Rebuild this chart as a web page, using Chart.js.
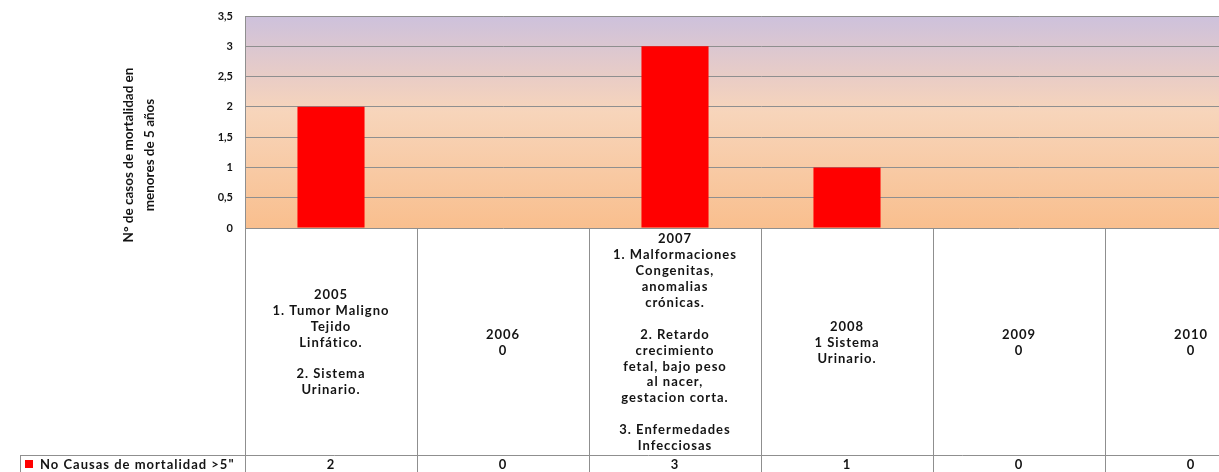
<!DOCTYPE html>
<html>
<head>
<meta charset="utf-8">
<script src="https://cdn.jsdelivr.net/npm/chart.js@4"></script>
<style>
  html, body { margin: 0; padding: 0; background: #fff; overflow: hidden; }
  #wrap { position: relative; width: 1290px; height: 472px; }
</style>
</head>
<body>
<div id="wrap"><canvas id="chartCausas"></canvas></div>
<script>
const years = ["2005", "2006", "2007", "2008", "2009", "2010"];
const causes = [
  ["1. Tumor Maligno", "Tejido", "Linfático.", "", "2. Sistema", "Urinario."],
  ["0"],
  ["1. Malformaciones", "Congenitas,", "anomalias", "crónicas.", "", "2. Retardo", "crecimiento", "fetal, bajo peso", "al nacer,", "gestacion corta.", "", "3. Enfermedades", "Infecciosas"],
  ["1 Sistema", "Urinario."],
  ["0"],
  ["0"],
];
const casos = [2, 0, 3, 1, 0, 0];
const seriesName = 'No Causas de mortalidad >5"';
const yTitle = ["N° de casos de mortalidad en", "menores de 5 años"];

const FONT = "Lato";
const TEXT = "#141414";
const LINE = "#8f8f8f";

// plot background gradient + data table under the chart
const tablePlugin = {
  id: "dataTable",
  beforeDraw(chart) {
    const { ctx, chartArea: a } = chart;
    const g = ctx.createLinearGradient(0, a.top, 0, a.bottom);
    g.addColorStop(0, "#cdc1dc");
    g.addColorStop(0.3, "#eacdc5");
    g.addColorStop(0.45, "#f7d5bb");
    g.addColorStop(1, "#f9bf8e");
    ctx.save();
    ctx.fillStyle = g;
    ctx.fillRect(a.left, a.top, a.right - a.left, a.bottom - a.top);
    ctx.restore();
  },
  afterDraw(chart) {
    const { ctx, chartArea: a } = chart;
    const x = chart.scales.x;
    const half = (x.getPixelForValue(1) - x.getPixelForValue(0)) / 2;
    const rowMid = 455;
    const bottom = chart.height;
    ctx.save();
    ctx.strokeStyle = LINE;
    ctx.lineWidth = 1;
    ctx.beginPath();
    for (let i = 0; i <= years.length; i++) {
      const px = Math.round(x.getPixelForValue(i) - half) + 0.5;
      ctx.moveTo(px, a.bottom);
      ctx.lineTo(px, bottom);
    }
    ctx.moveTo(20, rowMid + 0.5);
    ctx.lineTo(a.right, rowMid + 0.5);
    ctx.moveTo(20.5, rowMid);
    ctx.lineTo(20.5, bottom);
    ctx.stroke();

    ctx.fillStyle = TEXT;
    ctx.font = "bold 13px " + FONT;
    ctx.letterSpacing = "1px";
    ctx.textAlign = "center";
    ctx.textBaseline = "middle";
    const lineH = 15.9;
    const cy = (a.bottom + rowMid) / 2 + 1;
    years.forEach((yr, i) => {
      const lines = [yr].concat(causes[i]);
      const cx = x.getPixelForValue(i);
      let y = cy - ((lines.length - 1) * lineH) / 2;
      lines.forEach((t) => {
        ctx.fillText(t, cx, y);
        y += lineH;
      });
      ctx.fillText(String(casos[i]), cx, (rowMid + bottom) / 2 + 1);
    });

    // legend key
    ctx.fillStyle = "#ff0000";
    ctx.fillRect(25, 460, 8, 8);
    ctx.fillStyle = TEXT;
    ctx.textAlign = "left";
    ctx.fillText(seriesName, 40, (rowMid + bottom) / 2 + 1);

    // y axis title
    ctx.letterSpacing = "0px";
    ctx.font = "bold 13.5px " + FONT;
    ctx.translate(139, 155);
    ctx.rotate(-Math.PI / 2);
    ctx.textAlign = "center";
    ctx.fillText(yTitle[0], 0, -10);
    ctx.fillText(yTitle[1], 0, 11);
    ctx.restore();
  },
};

new Chart(document.querySelector("#chartCausas"), {
  type: "bar",
  data: {
    labels: years,
    datasets: [
      {
        label: seriesName,
        data: casos,
        backgroundColor: "#ff0000",
        borderWidth: 0,
        categoryPercentage: 0.39,
        barPercentage: 1,
      },
    ],
  },
  options: {
    responsive: true,
    maintainAspectRatio: false,
    animation: false,
    layout: { padding: { left: 0, top: 16, right: 13, bottom: 244 } },
    scales: {
      x: { display: false },
      y: {
        min: 0,
        max: 3.5,
        afterFit: (s) => {
          s.width = 245;
          s.paddingTop = 0;
          s.paddingBottom = 0;
        },
        ticks: {
          stepSize: 0.5,
          padding: 12,
          color: TEXT,
          font: { family: FONT, size: 11, weight: "bold" },
          callback: (v) => String(v).replace(".", ","),
        },
        grid: { color: LINE, drawTicks: false },
        border: { color: LINE },
      },
    },
    plugins: {
      legend: { display: false },
      tooltip: { enabled: false },
    },
  },
  plugins: [tablePlugin],
});
</script>
</body>
</html>
